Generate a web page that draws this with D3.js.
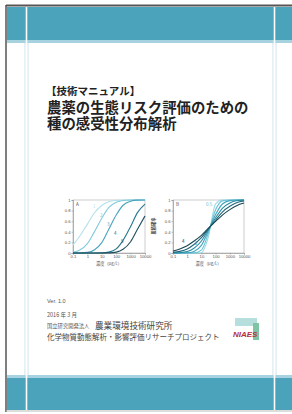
<!DOCTYPE html>
<html lang="ja">
<head>
<meta charset="UTF-8">
<title>種の感受性分布解析</title>
<script src="https://d3js.org/d3.v7.min.js"></script>
<style>
  body { margin: 0; background: #fff; }
  svg { display: block; font-family: "Noto Sans CJK JP", "Noto Sans", sans-serif; }
</style>
</head>
<body>
<svg width="292" height="414"></svg>
<script>
// concentrations (µg/L) where curves were read
const conc = [0.1, 0.3, 1, 3, 10, 30, 100, 300, 1000, 3000, 10000];
const xTicks = [0.1, 1, 10, 100, 1000, 10000];
const yTicks = [0, 0.2, 0.4, 0.6, 0.8, 1];

// panel A: shifting medians
const a1 = [0.15, 0.32, 0.545, 0.755, 0.897, 0.967, 0.992, 0.999, 1, 1, 1];
const a2 = [0.012, 0.055, 0.176, 0.394, 0.655, 0.857, 0.958, 0.992, 0.999, 1, 1];
const a3 = [0, 0.001, 0.011, 0.058, 0.195, 0.443, 0.716, 0.901, 0.977, 0.997, 1];
const a4 = [0, 0, 0, 0, 0.002, 0.016, 0.077, 0.238, 0.5, 0.762, 0.923];
const a5 = [0, 0, 0, 0, 0, 0.003, 0.017, 0.071, 0.212, 0.447, 0.70];
const labelsA = ["1", "2", "3", "4", "5"];

// panel B: same median, different spread
const b1 = [0, 0, 0, 0, 0.005, 0.29, 0.925, 1, 1, 1, 1];
const b2 = [0, 0, 0, 0.002, 0.055, 0.363, 0.816, 0.984, 1, 1, 1];
const b3 = [0, 0, 0.003, 0.029, 0.143, 0.409, 0.726, 0.924, 0.988, 0.999, 1];
const b4 = [0.001, 0.006, 0.027, 0.09, 0.226, 0.435, 0.664, 0.844, 0.945, 0.986, 0.997];
const b5 = [0.011, 0.031, 0.077, 0.161, 0.288, 0.452, 0.623, 0.773, 0.881, 0.947, 0.98];
const b6 = [0.039, 0.077, 0.138, 0.224, 0.334, 0.464, 0.595, 0.716, 0.818, 0.893, 0.942];

const colA = ["#b3e2ec", "#80cadb", "#47a4bc", "#26788f", "#1f4f5e"];
const colB = ["#9ddbe8", "#6cc3d6", "#43a6bf", "#2a8aa3", "#21677a", "#1a4654"];

const svg = d3.select("svg");
const teal = "#4aa2bb";

// cover frame and bands
svg.append("rect").attr("x", 7).attr("y", 7).attr("width", 285).attr("height", 35).attr("fill", teal);
svg.append("rect").attr("x", 7).attr("y", 40).attr("width", 285).attr("height", 3).attr("fill", "#a6d3df");
svg.append("rect").attr("x", 7).attr("y", 376).attr("width", 285).attr("height", 34).attr("fill", teal);
svg.append("rect").attr("x", 7).attr("y", 375).attr("width", 285).attr("height", 3).attr("fill", "#a6d3df");
[26.5, 274.5].forEach(function (x) {
  svg.append("rect").attr("x", x - 2.5).attr("y", 43).attr("width", 5).attr("height", 332).attr("fill", "#e4f0f4");
  svg.append("line").attr("x1", x).attr("x2", x).attr("y1", 7).attr("y2", 410)
    .attr("stroke", "#fff").attr("stroke-width", 1.6);
});
svg.append("line").attr("x1", 6).attr("x2", 292).attr("y1", 5.5).attr("y2", 5.5).attr("stroke", "#555").attr("stroke-width", 2);
svg.append("line").attr("x1", 6).attr("x2", 6).attr("y1", 5).attr("y2", 412).attr("stroke", "#555").attr("stroke-width", 1.5);
svg.append("line").attr("x1", 6).attr("x2", 292).attr("y1", 411).attr("y2", 411).attr("stroke", "#bbb").attr("stroke-width", 1);

// titles
svg.append("text").attr("x", 46).attr("y", 95).attr("font-size", 10.5).attr("font-weight", "bold")
  .attr("fill", "#222").text("【技術マニュアル】");
svg.append("text").attr("x", 47).attr("y", 113).attr("font-size", 14.4).attr("font-weight", "bold")
  .attr("fill", "#222").text("農薬の生態リスク評価のための");
svg.append("text").attr("x", 47).attr("y", 129).attr("font-size", 14.4).attr("font-weight", "bold")
  .attr("fill", "#222").text("種の感受性分布解析");

function panel(x0, x1, series, colors, letter) {
  const x = d3.scaleLog().domain([0.1, 10000]).range([x0, x1]);
  const y = d3.scaleLinear().domain([0, 1]).range([253, 200]);
  const g = svg.append("g");
  g.append("rect").attr("x", x0).attr("y", 200).attr("width", x1 - x0).attr("height", 53)
    .attr("fill", "none").attr("stroke", "#aaa").attr("stroke-width", 0.6);
  const ax = g.append("g").attr("transform", "translate(0,253)")
    .call(d3.axisBottom(x).tickValues(xTicks).tickFormat(d3.format("~g")).tickSize(1.5));
  const ay = g.append("g").attr("transform", "translate(" + x0 + ",0)")
    .call(d3.axisLeft(y).tickValues(yTicks).tickFormat(d3.format("~g")).tickSize(1.5));
  [ax, ay].forEach(function (a) {
    a.select(".domain").attr("stroke", "#888").attr("stroke-width", 0.6);
    a.selectAll("line").attr("stroke", "#888").attr("stroke-width", 0.5);
    a.selectAll("text").attr("font-size", 4.2).attr("fill", "#555").attr("font-family", "Liberation Sans, sans-serif");
  });
  ax.selectAll("text").attr("dy", "0.6em").attr("y", 2);
  ay.selectAll("text").attr("x", -2.5);
  const line = d3.line().x(function (d, i) { return x(conc[i]); }).y(function (d) { return y(d); })
    .curve(d3.curveMonotoneX);
  series.forEach(function (s, i) {
    g.append("path").attr("d", line(s)).attr("fill", "none").attr("stroke", colors[i]).attr("stroke-width", 1.1);
  });
  g.append("text").attr("x", x0 + 3).attr("y", 206).attr("font-size", 4.5).attr("fill", "#555").text(letter);
  g.append("text").attr("x", (x0 + x1) / 2).attr("y", 265).attr("text-anchor", "middle")
    .attr("font-size", 4.2).attr("fill", "#555").text("濃度（μg/L）");
  return { x: x, y: y, g: g };
}

const pA = panel(73, 145, [a1, a2, a3, a4, a5], colA, "A");
const pB = panel(173, 244, [b1, b2, b3, b4, b5, b6], colB, "B");

// curve labels
const labPosA = [[93, 208], [100, 217], [107, 226], [114, 235], [121, 243]];
labelsA.forEach(function (t, i) {
  pA.g.append("text").attr("x", labPosA[i][0]).attr("y", labPosA[i][1]).attr("font-size", 4.5)
    .attr("fill", colA[i]).text(t);
});
pB.g.append("text").attr("x", 206).attr("y", 206).attr("font-size", 4.5).attr("fill", colB[1]).text("0.5");
pB.g.append("text").attr("x", 182).attr("y", 243).attr("font-size", 4.5).attr("fill", colB[5]).text("4");
pB.g.append("text").attr("x", 195).attr("y", 245).attr("font-size", 4.5).attr("fill", colB[3]).text("2");

svg.append("text").attr("transform", "translate(155,226) rotate(-90)").attr("text-anchor", "middle")
  .attr("font-size", 4.2).attr("font-weight", "bold").attr("fill", "#444").text("累積確率");

// colophon
const grey = "#555";
svg.append("text").attr("x", 47).attr("y", 303).attr("font-size", 5.5).attr("fill", grey)
  .attr("font-family", "Liberation Sans, sans-serif").text("Ver. 1.0");
svg.append("text").attr("x", 47).attr("y", 317).attr("font-size", 5.5).attr("fill", grey).text("2016 年 3 月");
svg.append("text").attr("x", 47).attr("y", 328).attr("font-size", 5.3).attr("fill", grey).text("国立研究開発法人");
svg.append("text").attr("x", 95).attr("y", 328.5).attr("font-size", 8.6).attr("fill", "#444").text("農業環境技術研究所");
svg.append("text").attr("x", 47).attr("y", 340).attr("font-size", 7.5).attr("fill", "#444")
  .text("化学物質動態解析・影響評価リサーチプロジェクト");

// NIAES logo
svg.append("rect").attr("x", 235).attr("y", 318).attr("width", 22).attr("height", 8).attr("fill", "#b5dedd");
svg.append("rect").attr("x", 253).attr("y", 323).attr("width", 6).attr("height", 17).attr("fill", "#7fc4a4");
svg.append("text").attr("x", 233).attr("y", 337).attr("font-size", 8).attr("font-weight", "bold")
  .attr("font-style", "italic").attr("font-family", "Liberation Sans, sans-serif")
  .attr("fill", "#b3303f").text("NIAES");
</script>
</body>
</html>
